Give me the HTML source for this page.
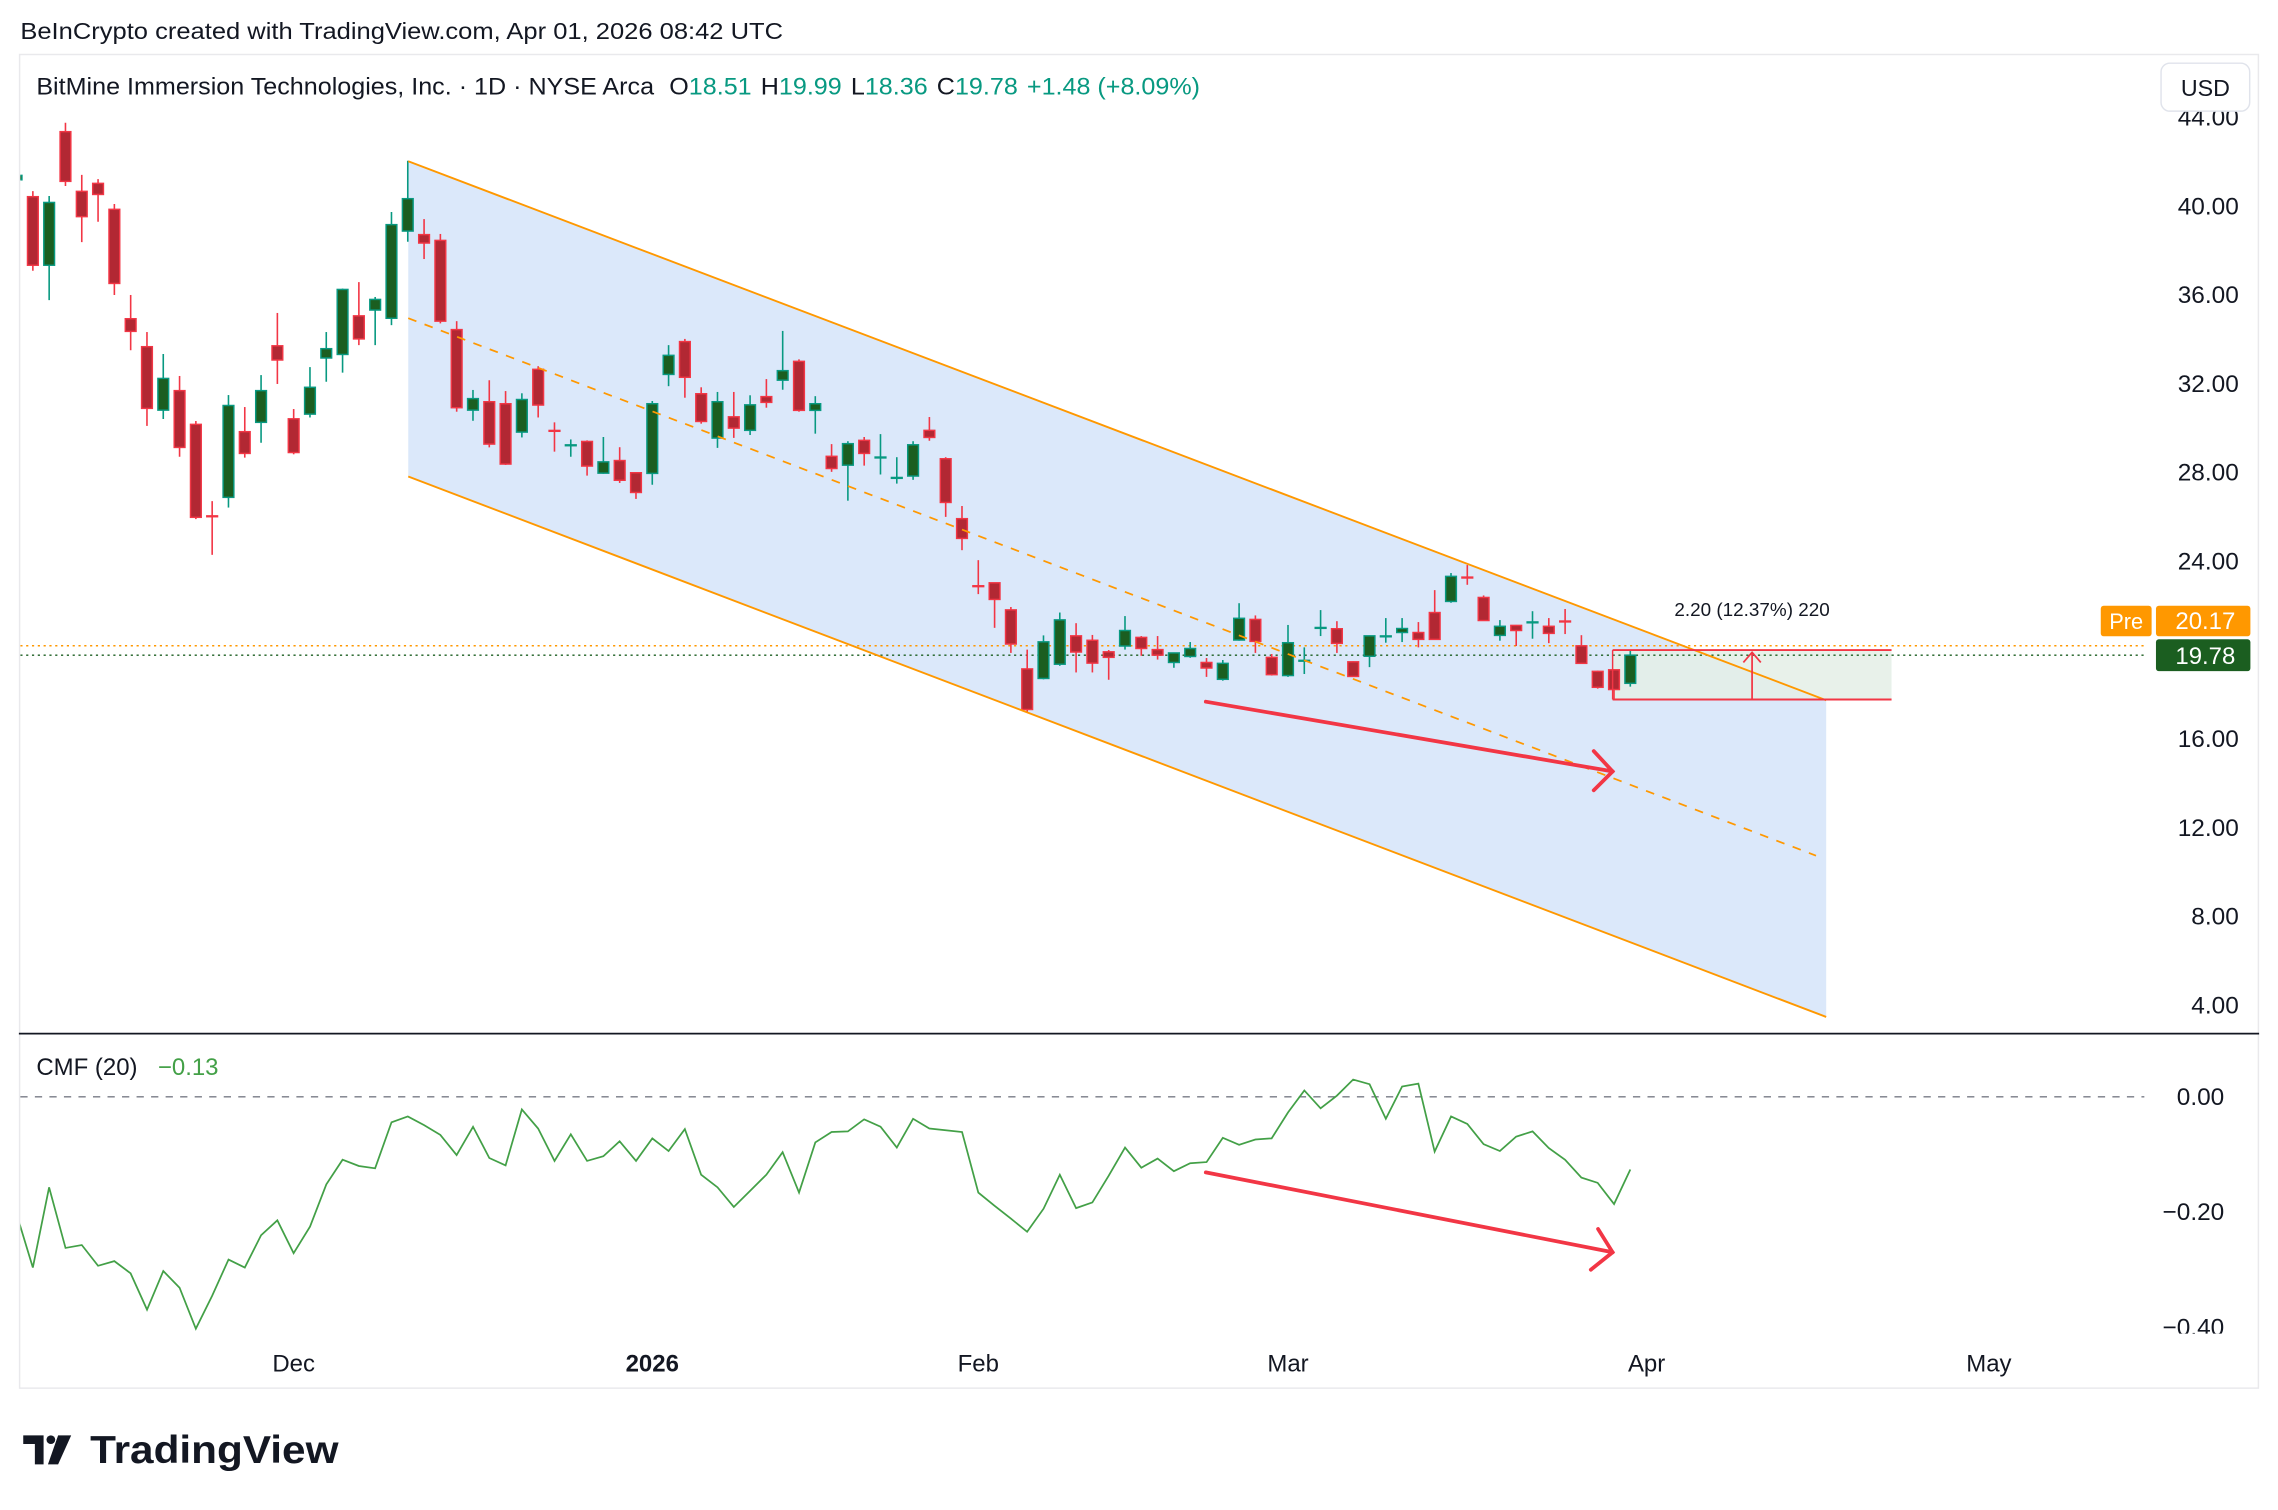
<!DOCTYPE html>
<html><head><meta charset="utf-8"><style>
html,body{margin:0;padding:0;background:#fff;}
svg{display:block;}
text{font-family:"Liberation Sans",sans-serif;}
</style></head><body>
<svg id="chart" width="2278" height="1510" viewBox="0 0 1568 1039.4" preserveAspectRatio="none" xmlns="http://www.w3.org/2000/svg">
<defs>
<clipPath id="priceClip"><rect x="14" y="38" width="1464" height="672"/></clipPath>
<clipPath id="cmfClip"><rect x="14" y="712" width="1464" height="206"/></clipPath>
<clipPath id="cmfAxisClip"><rect x="1478" y="712" width="80" height="206"/></clipPath>
</defs>
<rect x="0" y="0" width="1568" height="1039.4" fill="#ffffff"/>
<text x="14" y="27" font-size="16" fill="#131722" textLength="525" lengthAdjust="spacingAndGlyphs">BeInCrypto created with TradingView.com, Apr 01, 2026 08:42 UTC</text>
<rect x="13.5" y="37.5" width="1541" height="918" fill="none" stroke="#e9e9ec" stroke-width="1"/>
<g id="pricePane">
 <g clip-path="url(#priceClip)">
  <polygon points="281,111 1257,482 1257,700 281,328" fill="#dbe8fa"/>
  <rect x="1110" y="448" width="192" height="34" fill="#e4efe6" opacity="0.85"/>
  <line x1="14" y1="444.5" x2="1478" y2="444.5" stroke="#ff9800" stroke-width="1" stroke-dasharray="1.5,2.5"/>
  <line x1="14" y1="451" x2="1478" y2="451" stroke="#1b5e20" stroke-width="1" stroke-dasharray="1.5,2.5"/>
  <g id="candles"></g>
  <line x1="281" y1="111" x2="1257" y2="482" stroke="#ff9800" stroke-width="1.3"/>
  <line x1="281" y1="328" x2="1257" y2="700" stroke="#ff9800" stroke-width="1.3"/>
  <line x1="281" y1="219" x2="1250" y2="589" stroke="#ff9800" stroke-width="1.2" stroke-dasharray="6,6"/>
  <line x1="1110" y1="447.5" x2="1302" y2="447.5" stroke="#f23645" stroke-width="1.3"/>
  <line x1="1110" y1="481.5" x2="1302" y2="481.5" stroke="#f23645" stroke-width="1.3"/>
  <line x1="1110" y1="447.5" x2="1110" y2="481.5" stroke="#f23645" stroke-width="1"/>
  <g stroke="#f23645" stroke-width="1.2" fill="none">
   <line x1="1206" y1="481" x2="1206" y2="449"/>
   <polyline points="1200,456 1206,449 1212,456"/>
  </g>
  <text x="1206" y="424" font-size="13" fill="#131722" text-anchor="middle">2.20 (12.37%) 220</text>
  <g stroke="#f23645" stroke-width="2.6" fill="none" stroke-linecap="round">
   <line x1="830" y1="483" x2="1110" y2="531"/>
   <polyline points="1097,517 1110,531 1097,544"/>
  </g>
 </g>
 <text x="25" y="65" font-size="16.5" fill="#131722" textLength="801" lengthAdjust="spacingAndGlyphs">BitMine Immersion Technologies, Inc. · 1D · NYSE Arca<tspan dx="10">O</tspan><tspan fill="#089981">18.51</tspan><tspan dx="6">H</tspan><tspan fill="#089981">19.99</tspan><tspan dx="6">L</tspan><tspan fill="#089981">18.36</tspan><tspan dx="6">C</tspan><tspan fill="#089981">19.78</tspan><tspan dx="6" fill="#089981">+1.48 (+8.09%)</tspan></text>
 <g id="priceAxis"></g>
 <rect x="1487.5" y="43.5" width="61" height="33" rx="6" fill="#fff" stroke="#e0e3eb"/>
 <text x="1518" y="66" font-size="16" fill="#131722" text-anchor="middle">USD</text>
 <rect x="1446" y="417" width="35" height="21" rx="2" fill="#ff9800"/>
 <text x="1463.5" y="433" font-size="15" fill="#fff" text-anchor="middle">Pre</text>
 <rect x="1484" y="417" width="65" height="21" rx="2" fill="#ff9800"/>
 <text x="1518" y="433" font-size="16.5" fill="#fff" text-anchor="middle">20.17</text>
 <rect x="1484" y="440" width="65" height="22" rx="2" fill="#1b5e20"/>
 <text x="1518" y="457" font-size="16.5" fill="#fff" text-anchor="middle">19.78</text>
</g>
<line x1="13" y1="711.5" x2="1555" y2="711.5" stroke="#131722" stroke-width="1.2"/>
<g id="cmfPane">
 <line x1="14" y1="755" x2="1476" y2="755" stroke="#787b86" stroke-width="1" stroke-dasharray="5,5"/>
 <g clip-path="url(#cmfClip)">
  <path id="cmfLine" fill="none" stroke="#43a047" stroke-width="1.2"/>
  <g stroke="#f23645" stroke-width="2.6" fill="none" stroke-linecap="round">
   <line x1="830" y1="807" x2="1110" y2="862"/>
   <polyline points="1100,846 1110,862 1095,874"/>
  </g>
 </g>
 <text x="25" y="740" font-size="16.5" fill="#131722">CMF (20)<tspan dx="14" fill="#43a047">−0.13</tspan></text>
 <g id="cmfAxis" clip-path="url(#cmfAxisClip)"></g>
</g>
<g id="timeAxis"></g>
<g>
 <path d="M16,988 h14 v20 h-6 v-14 h-8z" fill="#131722"/>
 <circle cx="35" cy="991" r="3" fill="#131722"/>
 <path d="M40,988 h9 l-9,20 h-7z" fill="#131722"/>
 <text x="62" y="1007" font-size="27" font-weight="bold" fill="#131722" textLength="171" lengthAdjust="spacingAndGlyphs">TradingView</text>
</g>
</svg>
<script>
const opens=[41.2,40.44,37.35,43.37,40.68,41.04,39.87,34.94,33.68,30.82,31.70,30.18,26.05,26.89,29.85,30.27,33.72,30.43,30.64,33.17,33.33,35.07,35.33,34.96,38.89,38.73,38.47,34.45,30.82,31.20,31.11,29.83,32.66,29.90,29.20,29.41,27.98,28.55,28.00,27.97,32.43,33.91,31.56,29.56,30.52,29.91,31.43,32.17,33.02,30.81,28.74,28.34,29.46,28.66,27.74,27.85,29.91,28.63,25.93,22.90,23.04,21.82,19.16,18.73,19.37,20.65,20.45,19.93,20.19,20.58,20.03,19.45,19.72,19.45,18.69,20.46,21.39,19.68,18.86,19.50,20.98,20.97,19.48,19.73,20.60,20.80,20.80,21.70,22.20,23.29,22.38,20.67,21.12,21.23,21.08,21.31,20.20,19.05,19.12,18.51];
const highs=[41.5,40.69,40.47,43.77,41.42,41.23,40.11,36.01,34.34,33.35,32.36,30.33,26.72,31.50,30.96,32.40,35.20,30.87,32.76,34.34,36.30,36.59,35.92,39.75,42.06,39.43,38.76,34.83,31.73,32.17,31.68,31.58,32.80,30.27,29.50,29.46,29.61,29.15,28.02,31.23,33.75,34.03,31.85,31.64,31.64,31.49,32.22,34.39,33.11,31.45,29.29,29.42,29.61,29.74,28.70,29.42,30.51,28.70,26.50,24.06,23.04,21.95,20.03,20.67,21.70,21.22,20.69,20.01,21.54,20.64,20.64,19.90,20.37,19.65,19.56,22.12,21.57,19.83,21.14,20.13,21.81,21.31,19.50,20.67,21.45,21.45,21.27,22.71,23.48,23.84,22.47,21.36,21.14,21.76,21.45,21.86,20.68,19.08,19.14,19.99];
const lows=[41.1,37.10,35.78,40.92,38.39,39.31,36.01,33.52,30.11,30.42,28.72,25.91,24.30,26.43,28.68,29.35,32.00,28.83,30.49,32.10,32.51,33.75,33.75,34.65,38.41,37.63,34.73,30.75,30.34,29.14,28.35,29.59,30.49,28.95,28.72,27.87,27.95,27.54,26.82,27.46,31.90,31.38,30.21,29.12,29.57,29.70,30.93,31.74,30.75,29.76,28.04,26.74,28.32,27.92,27.51,27.68,29.44,26.01,24.51,22.53,21.01,19.88,17.18,18.69,19.30,19.00,19.00,18.67,20.03,19.75,19.58,19.21,19.66,18.80,18.63,20.43,19.88,18.86,18.80,18.93,20.64,19.88,18.80,19.24,20.34,20.37,20.13,20.47,22.14,22.95,21.32,20.43,20.19,20.52,20.32,20.73,19.39,18.27,17.76,18.36];
const closes=[41.4,37.35,40.18,41.13,39.54,40.54,36.53,34.37,30.90,32.25,29.14,25.99,26.02,31.03,28.87,31.70,33.08,28.91,31.85,33.59,36.26,34.03,35.81,39.18,40.35,38.35,34.83,30.93,31.34,29.29,28.39,31.30,31.05,29.85,29.25,28.30,28.49,27.66,27.11,31.11,33.29,32.30,30.31,31.20,30.01,31.06,31.17,32.60,30.81,31.11,28.19,29.31,28.87,28.70,27.78,29.26,29.59,26.66,25.04,22.86,22.29,20.28,17.33,20.38,21.37,19.92,19.42,19.68,20.89,20.08,19.78,19.88,20.08,19.20,19.41,21.44,20.40,18.90,20.34,19.54,21.02,20.31,18.82,20.65,20.64,20.98,20.49,20.49,23.33,23.25,21.34,21.08,20.89,21.27,20.76,21.27,19.41,18.33,18.23,19.78];
const cmfValues=[-0.203,-0.296,-0.157,-0.262,-0.257,-0.293,-0.285,-0.306,-0.369,-0.302,-0.331,-0.402,-0.345,-0.282,-0.296,-0.240,-0.214,-0.271,-0.225,-0.152,-0.109,-0.120,-0.124,-0.044,-0.034,-0.049,-0.066,-0.101,-0.052,-0.106,-0.119,-0.022,-0.055,-0.111,-0.065,-0.111,-0.103,-0.077,-0.111,-0.072,-0.094,-0.056,-0.135,-0.157,-0.191,-0.163,-0.135,-0.096,-0.166,-0.079,-0.061,-0.060,-0.039,-0.052,-0.088,-0.038,-0.055,-0.058,-0.061,-0.166,-0.189,-0.211,-0.234,-0.194,-0.135,-0.193,-0.183,-0.137,-0.088,-0.123,-0.107,-0.129,-0.115,-0.113,-0.071,-0.083,-0.074,-0.072,-0.027,0.011,-0.020,0.002,0.030,0.022,-0.038,0.018,0.023,-0.095,-0.034,-0.047,-0.082,-0.094,-0.069,-0.060,-0.089,-0.109,-0.140,-0.149,-0.186,-0.126];
const priceTicks=[44,40,36,32,28,24,16,12,8,4];
const cmfTicks=[0,-0.2,-0.4];
const timeTickIndex=[17,39,59,78,100,121];
const timeTickLabels=["Dec","2026","Feb","Mar","Apr","May"];

const NS="http://www.w3.org/2000/svg";
function xScale(i){return 11.4+i*11.22;}
function yPrice(p){return 692-(p-4)*15.275;}
function yCmf(c){return 755-c*397;}
function mk(tag,attrs,parent){const e=document.createElementNS(NS,tag);for(const k in attrs)e.setAttribute(k,attrs[k]);parent.appendChild(e);return e;}

const cg=document.getElementById('candles');
for(let i=0;i<opens.length;i++){
  const up=closes[i]>=opens[i];
  const edge=up?'#089981':'#f23645', fill=up?'#1b5e20':'#b22833';
  const g=mk('g',{},cg);
  
  
  const x=xScale(i);
  mk('line',{x1:x,x2:x,y1:yPrice(highs[i]),y2:yPrice(lows[i]),stroke:edge,'stroke-width':1.1},g);
  const yt=yPrice(Math.max(opens[i],closes[i])), yb=yPrice(Math.min(opens[i],closes[i]));
  const h=Math.max(yb-yt,1);
  if(h<2.5){mk('rect',{x:x-4.2,y:yt-0.6,width:8.4,height:Math.max(h,1.6),fill:edge},g);}
  else mk('rect',{x:x-3.7,y:yt,width:7.4,height:h,fill:fill,stroke:edge,'stroke-width':1},g);
}

const pa=document.getElementById('priceAxis');
priceTicks.forEach(p=>{
  const t=mk('text',{x:1541,y:yPrice(p)+5.5,'font-size':16.8,fill:'#131722','text-anchor':'end'},pa);
  
  
  t.textContent=p.toFixed(2);
});

let d='';
cmfValues.forEach((c,i)=>{d+=(i?'L':'M')+xScale(i).toFixed(1)+','+yCmf(c).toFixed(1);});
document.getElementById('cmfLine').setAttribute('d',d);

const ca=document.getElementById('cmfAxis');
cmfTicks.forEach(c=>{
  const t=mk('text',{x:1531,y:yCmf(c)+5.5,'font-size':16.8,fill:'#131722','text-anchor':'end'},ca);
  
  
  t.textContent=(c<0?'−':'')+Math.abs(c).toFixed(2);
});

const ta=document.getElementById('timeAxis');
timeTickIndex.forEach((idx,k)=>{
  const t=mk('text',{x:xScale(idx),y:944,'font-size':16.5,fill:'#131722','text-anchor':'middle'},ta);
  
  
  if(timeTickLabels[k]==='2026')t.setAttribute('font-weight','bold');
  t.textContent=timeTickLabels[k];
});
</script>
</body></html>
